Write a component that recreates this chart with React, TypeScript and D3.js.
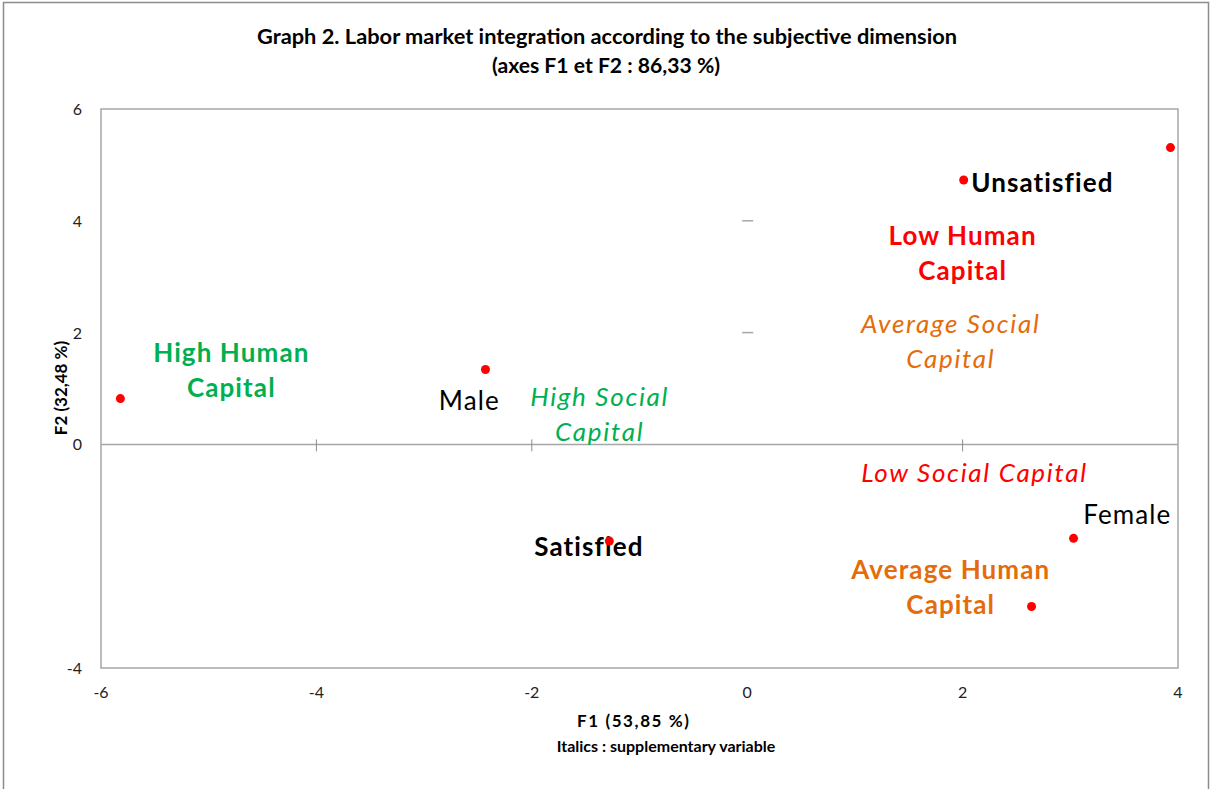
// @ts-nocheck
import React, { useEffect, useRef } from "react";
import * as d3 from "d3";

// active points (F1, F2)
const pointNames = ["High Human Capital", "Male", "Satisfied", "Unsatisfied", "Low Human Capital", "Female", "Average Human Capital"];
const pointF1 = [-5.82, -2.43, -1.28, 2.01, 3.93, 3.03, 2.64];
const pointF2 = [0.82, 1.34, -1.73, 4.73, 5.31, -1.68, -2.9];

// labels, placed in F1/F2 units
const labelLines = [
  ["Unsatisfied"],
  ["Low Human", "Capital"],
  ["Average Social", "Capital"],
  ["Low Social Capital"],
  ["Female"],
  ["Average Human", "Capital"],
  ["Satisfied"],
  ["High Social", "Capital"],
  ["Male"],
  ["High Human", "Capital"],
];
const labelF1 = [2.08, 2.0, 1.89, 2.11, 3.12, 1.89, -1.47, -1.37, -2.58, -4.79];
const labelF2 = [4.67, 3.41, 1.84, -0.52, -1.27, -2.56, -1.84, 0.54, 0.77, 1.33];
const labelKind = ["black-bold", "red-bold", "orange-italic", "red-italic", "black", "orange-bold", "black-bold", "green-italic", "black", "green-bold"];
const labelAnchor = ["start", "middle", "middle", "middle", "start", "middle", "middle", "middle", "middle", "middle"];

const xTicks = [-6, -4, -2, 0, 2, 4];
const yTicks = [-4, 0, 2, 4, 6];

const colors = { black: "#000000", red: "#ff0000", orange: "#e46c0a", green: "#00b050" };

const App = () => {
  const svgRef = useRef();

  useEffect(() => {
    const width = 1212;
    const height = 789;
    const svg = d3.select(svgRef.current);
    svg.selectAll("*").remove();
    const font = "Lato, 'Open Sans', sans-serif";

    const x = d3.scaleLinear().domain([-6, 4]).range([101, 1178]);
    const y = d3.scaleLinear().domain([-4, 6]).range([668, 109]);

    // outer border
    svg.append("rect").attr("x", 3.5).attr("y", 2.5).attr("width", width - 7).attr("height", height)
      .attr("fill", "#fff").attr("stroke", "#8c8c8c").attr("stroke-width", 1.5);

    // title
    svg.append("text").attr("x", 607).attr("y", 44).attr("text-anchor", "middle")
      .style("font-family", font).style("font-weight", "bold").style("font-size", "20px")
      .attr("textLength", 700).attr("lengthAdjust", "spacingAndGlyphs")
      .text("Graph 2. Labor market integration according to the subjective dimension");
    svg.append("text").attr("x", 606).attr("y", 73).attr("text-anchor", "middle")
      .style("font-family", font).style("font-weight", "bold").style("font-size", "20px")
      .attr("textLength", 228).attr("lengthAdjust", "spacingAndGlyphs")
      .text("(axes F1 et F2 : 86,33 %)");

    // plot frame
    svg.append("rect").attr("x", x(-6)).attr("y", y(6)).attr("width", x(4) - x(-6)).attr("height", y(-4) - y(6))
      .attr("fill", "none").attr("stroke", "#a6a6a6").attr("stroke-width", 1.5);

    // horizontal axis at F2 = 0
    svg.append("line").attr("x1", x(-6)).attr("x2", x(4)).attr("y1", y(0)).attr("y2", y(0))
      .attr("stroke", "#a6a6a6").attr("stroke-width", 1.5);
    svg.selectAll(".xt").data(xTicks.filter((d) => d > -6 && d < 4 && d !== 0)).enter().append("line")
      .attr("x1", (d) => x(d)).attr("x2", (d) => x(d)).attr("y1", y(0) - 5).attr("y2", y(0) + 7)
      .attr("stroke", "#8c8c8c").attr("stroke-width", 1);

    // vertical axis (line hidden, ticks only)
    svg.selectAll(".yt").data(yTicks.filter((d) => d > 0 && d < 6)).enter().append("line")
      .attr("x1", x(0) - 5).attr("x2", x(0) + 6).attr("y1", (d) => y(d)).attr("y2", (d) => y(d))
      .attr("stroke", "#a6a6a6").attr("stroke-width", 1.5);

    // tick labels
    svg.selectAll(".xl").data(xTicks).enter().append("text")
      .attr("x", (d) => x(d)).attr("y", 698).attr("text-anchor", "middle")
      .style("font-family", font).style("font-size", "16px").attr("fill", "#222")
      .text((d) => d);
    svg.selectAll(".yl").data(yTicks).enter().append("text")
      .attr("x", 82).attr("y", (d) => y(d) + 6).attr("text-anchor", "end")
      .style("font-family", font).style("font-size", "16px").attr("fill", "#222")
      .text((d) => d);

    // axis titles
    svg.append("text").attr("transform", `translate(67,${388}) rotate(-90)`).attr("text-anchor", "middle")
      .style("font-family", font).style("font-weight", "bold").style("font-size", "17px")
      .text("F2 (32,48 %)");
    svg.append("text").attr("x", 633).attr("y", 727).attr("text-anchor", "middle")
      .style("font-family", font).style("font-weight", "bold").style("font-size", "17px")
      .attr("textLength", 112).attr("lengthAdjust", "spacing")
      .text("F1 (53,85 %)");
    svg.append("text").attr("x", 666).attr("y", 752).attr("text-anchor", "middle")
      .style("font-family", font).style("font-weight", "bold").style("font-size", "16px")
      .text("Italics : supplementary variable");

    // labels
    const labels = labelLines.map((lines, i) => ({
      lines, fx: labelF1[i], fy: labelF2[i], kind: labelKind[i], anchor: labelAnchor[i],
    }));
    const g = svg.selectAll(".lab").data(labels).enter().append("text")
      .attr("text-anchor", (d) => d.anchor)
      .style("font-family", font)
      .style("font-size", "26px")
      .style("letter-spacing", (d) => (d.kind.includes("italic") ? "1.7px" : "1.1px"))
      .style("font-weight", (d) => (d.kind.includes("bold") ? "bold" : "normal"))
      .style("font-style", (d) => (d.kind.includes("italic") ? "italic" : "normal"))
      .attr("fill", (d) => colors[d.kind.split("-")[0]]);
    g.each(function (d) {
      const t = d3.select(this);
      const lh = 35;
      const top = y(d.fy) - ((d.lines.length - 1) * lh) / 2;
      d.lines.forEach((ln, k) => {
        t.append("tspan").attr("x", x(d.fx)).attr("y", top + k * lh + 9).text(ln);
      });
    });

    // points
    const pts = pointNames.map((n, i) => ({ n, fx: pointF1[i], fy: pointF2[i] }));
    svg.selectAll(".pt").data(pts).enter().append("circle")
      .attr("cx", (d) => x(d.fx)).attr("cy", (d) => y(d.fy)).attr("r", 4.5)
      .attr("fill", "#ff0000");
  }, []);

  return (
    <svg ref={svgRef} width={1212} height={789}
      style={{ position: "absolute", left: 0, top: 0, display: "block" }} />
  );
};

export default App;
